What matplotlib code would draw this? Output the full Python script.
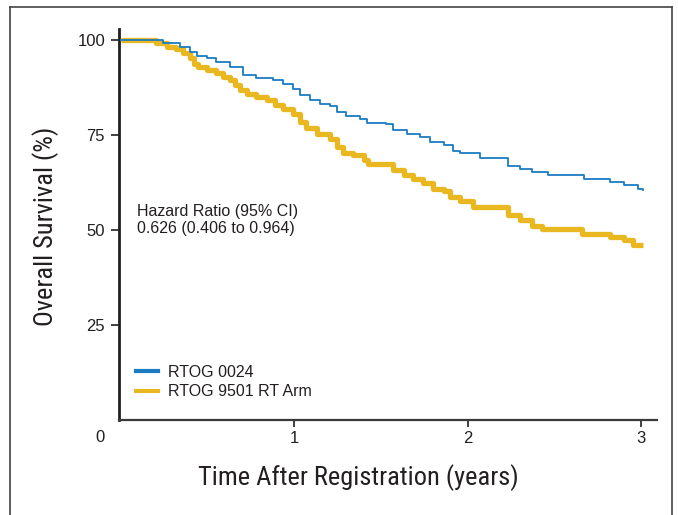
import matplotlib
matplotlib.use("Agg")
import matplotlib.pyplot as plt
from matplotlib.lines import Line2D
from matplotlib import font_manager

# Data: time in years, overall survival in %
t_0024 = [0.00, 0.245, 0.34, 0.40, 0.437, 0.495, 0.55, 0.63, 0.705, 0.78, 0.88, 0.937,
          0.994, 1.033, 1.09, 1.148, 1.206, 1.245, 1.30, 1.38, 1.417, 1.53, 1.57, 1.65,
          1.725, 1.78, 1.86, 1.917, 1.955, 2.07, 2.23, 2.30, 2.37, 2.46, 2.67, 2.82,
          2.90, 2.98, 3.01]
s_0024 = [100, 99.1, 98.2, 96.9, 95.8, 95.2, 94.1, 93.0, 90.8, 90.0, 89.4, 88.3,
          87.1, 85.5, 84.2, 83.1, 82.7, 81.1, 79.9, 79.3, 78.0, 77.8, 76.2, 75.1,
          74.5, 73.0, 72.3, 70.7, 70.3, 68.9, 66.8, 66.1, 65.2, 64.4, 63.3, 62.6,
          61.7, 60.8, 60.6]

t_9501 = [0.00, 0.206, 0.264, 0.32, 0.36, 0.40, 0.42, 0.446, 0.495, 0.55, 0.59, 0.63,
          0.66, 0.687, 0.725, 0.78, 0.84, 0.89, 0.937, 0.994, 1.033, 1.07, 1.13, 1.206,
          1.245, 1.283, 1.34, 1.40, 1.427, 1.57, 1.63, 1.686, 1.744, 1.80, 1.86, 1.90,
          1.955, 2.03, 2.23, 2.30, 2.37, 2.43, 2.66, 2.82, 2.90, 2.95, 3.01]
s_9501 = [100, 99.1, 98.2, 97.6, 96.5, 95.2, 93.6, 93.0, 92.1, 91.2, 90.3, 89.4,
          88.1, 86.8, 85.7, 84.9, 84.2, 82.8, 81.8, 80.5, 78.4, 76.7, 75.1, 73.9,
          71.8, 70.3, 69.6, 68.3, 67.4, 65.7, 64.4, 63.3, 62.3, 60.8, 60.1, 58.6,
          57.5, 56.0, 53.8, 52.5, 50.9, 50.3, 49.0, 48.1, 47.2, 46.1, 45.9]

series_labels = ["RTOG 0024", "RTOG 9501 RT Arm"]
x_ticks = [1, 2, 3]
y_ticks = [25, 50, 75, 100]
hr_text = "Hazard Ratio (95% CI)\n0.626 (0.406 to 0.964)"

BLUE = "#1b7cc3"
YELLOW = "#e9b820"
TXT = "#231f20"

names = {f.name for f in font_manager.fontManager.ttflist}


def pick(prefs):
    for p in prefs:
        if p in names:
            return p
    return "DejaVu Sans"


cond = pick(["Liberation Sans Narrow", "Roboto Condensed", "Archivo Narrow", "Arial Narrow",
             "PT Sans Narrow", "Fira Sans Condensed", "IBM Plex Sans Condensed",
             "Encode Sans Condensed", "Open Sans Condensed", "Roboto"])
reg = pick(["Liberation Sans", "Arimo", "Arial", "Helvetica", "Nimbus Sans", "Roboto"])

fig = plt.figure(figsize=(6.78, 5.15), dpi=100)
ax = fig.add_axes([119 / 678, 1 - 419.5 / 515, (657 - 119) / 678, (419.5 - 29) / 515])

ax.step(t_9501, s_9501, where="post", color=YELLOW, lw=3.8, solid_capstyle="butt", zorder=2)
ax.step(t_0024, s_0024, where="post", color=BLUE, lw=1.3, zorder=3)

ax.set_xlim(-0.01, 3.09)
ax.set_ylim(0, 102.9)
ax.set_xticks(x_ticks)
ax.set_yticks(y_ticks)
ax.set_xticklabels([str(v) for v in x_ticks], fontsize=12, family=reg, color=TXT)
ax.set_yticklabels([str(v) for v in y_ticks], fontsize=12, family=reg, color=TXT)
ax.tick_params(axis="both", direction="out", length=6, width=1.2, colors=TXT, pad=4)
ax.tick_params(axis="x", length=5, pad=3)
for s in ["top", "right"]:
    ax.spines[s].set_visible(False)
ax.spines["left"].set_linewidth(2.0)
ax.spines["bottom"].set_linewidth(1.6)
ax.spines["left"].set_color(TXT)
ax.spines["bottom"].set_color("#3a3a3a")

fig.text(100 / 678, 1 - 437 / 515, "0", ha="center", va="center", fontsize=12,
         family=reg, color=TXT)

fig.text(358 / 678, 1 - 478 / 515, "Time After Registration (years)", ha="center",
         va="center", fontsize=19, family=cond, color=TXT)
fig.text(46 / 678, 1 - 226 / 515, "Overall Survival (%)", ha="center", va="center",
         rotation=90, fontsize=19, family=cond, color=TXT)

fig.text(137 / 678, 1 - 220 / 515, hr_text, ha="left", va="center", fontsize=11.5,
         family=reg, color=TXT, linespacing=1.1)

handles = [Line2D([], [], color=BLUE, lw=3), Line2D([], [], color=YELLOW, lw=3)]
leg = ax.legend(handles, series_labels, loc="lower left", bbox_to_anchor=(0.019, 0.035),
                frameon=False, prop={"family": reg, "size": 11.5}, handlelength=1.4,
                handletextpad=0.6, labelspacing=0.3, borderaxespad=0)
for t in leg.get_texts():
    t.set_color(TXT)

# figure border
for xs, ys in [([10 / 678, 10 / 678], [0, 1 - 7 / 515]),
               ([10 / 678, 672 / 678], [1 - 7 / 515, 1 - 7 / 515]),
               ([672 / 678, 672 / 678], [1 - 7 / 515, 0])]:
    fig.add_artist(Line2D(xs, ys, color="#444444", lw=1.2, transform=fig.transFigure))

fig.savefig("out.png", dpi=100)
